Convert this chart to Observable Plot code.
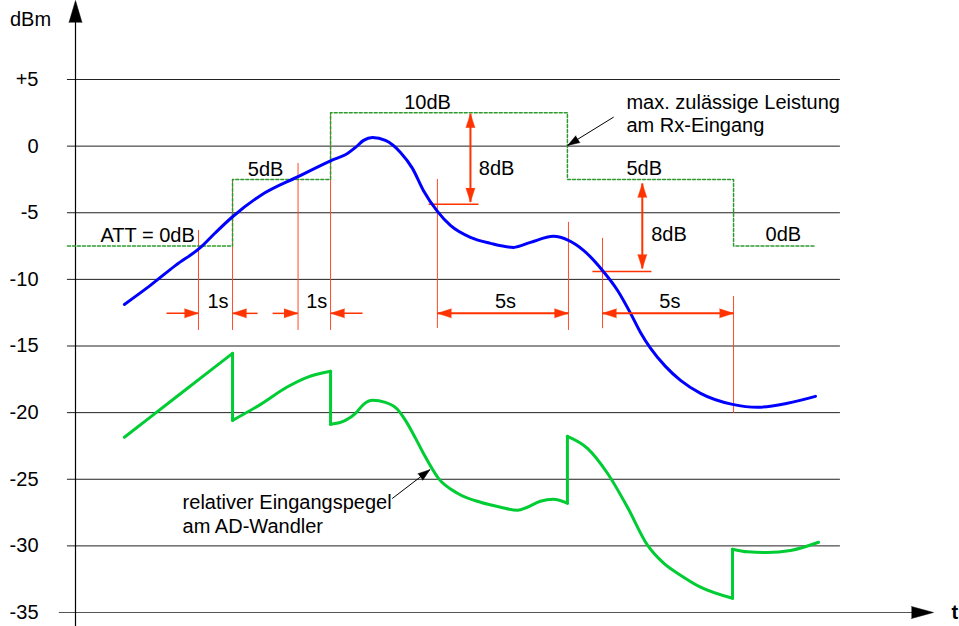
<!DOCTYPE html>
<html><head><meta charset="utf-8">
<script src="https://cdn.jsdelivr.net/npm/d3@7"></script>
<script src="https://cdn.jsdelivr.net/npm/@observablehq/plot@0.6"></script>
<style>html,body{margin:0;padding:0;background:#fff;} svg{display:block}</style>
</head><body><div id="chart"></div>
<script>
// ---- data (t in s, level in dBm) ----
const yTicks = [5, 0, -5, -10, -15, -20, -25, -30, -35];
const gridLevels = [5, 0, -5, -10, -15, -20, -25, -30];

// received power at Rx input (blue)
const rxLevel = [[1.88,-11.88],[2.88,-10.45],[3.85,-8.95],[4.81,-7.6],[5.38,-6.5],[6.04,-5.3],[7.12,-3.7],[8.58,-2.27],[9.81,-1.1],[10.46,-0.55],[10.77,-0.1],[11.08,0.43],[11.42,0.65],[11.92,0.43],[12.5,-0.47],[12.96,-1.67],[13.38,-3.33],[13.92,-4.9],[14.42,-5.95],[15.19,-6.85],[15.96,-7.3],[16.85,-7.6],[17.5,-7.22],[18.38,-6.77],[18.96,-7.07],[19.54,-7.82],[20.27,-9.33],[20.85,-10.83],[21.35,-12.55],[21.73,-13.98],[22.12,-15.18],[22.69,-16.53],[23.27,-17.58],[24.04,-18.55],[25.27,-19.38],[26.23,-19.6],[27.38,-19.3],[28.46,-18.78]];

// relative level at AD converter (green), piecewise between attenuator switches
const adSeg1 = [[1.88,-21.85],[3.96,-18.7],[6.04,-15.55]];
const adSeg2 = [[6.04,-20.58],[7.12,-19.38],[8.14,-18.08],[8.91,-17.35],[9.81,-16.9]];
const adSeg3 = [[9.81,-20.88],[10.38,-20.58],[10.77,-20.05],[11.08,-19.38],[11.42,-19.08],[11.92,-19.23],[12.38,-19.75],[12.69,-20.58],[13.08,-21.93],[13.38,-23.05],[13.96,-24.93],[14.69,-26.05],[15.58,-26.73],[16.35,-27.1],[17.0,-27.33],[17.38,-27.1],[17.88,-26.65],[18.38,-26.5],[18.92,-26.8]];
const adSeg4 = [[18.92,-21.78],[19.69,-22.68],[20.46,-24.55],[21.23,-27.1],[22.0,-29.95],[22.62,-31.3],[23.27,-32.2],[24.04,-33.1],[25.27,-33.93]];
const adSeg5 = [[25.27,-30.25],[25.85,-30.45],[26.6,-30.5],[27.5,-30.35],[28.58,-29.73]];

// max. allowed power (attenuator steps)
const maxLevel = [[-0.31,-7.5],[6.04,-2.5],[9.81,2.5],[18.92,-2.5],[25.31,-7.5],[28.46,-7.5]];

// red marker lines [t, top, bottom]
const markerLines = [[4.73,-6.33,-13.83],[6.04,-2.5,-13.83],[8.56,-1.3,-13.83],[9.81,2.5,-13.83],[13.92,-2.5,-13.68],[18.96,-5.72,-13.83],[20.27,-6.92,-13.7],[25.31,-11.28,-20.05]];
const timeArrowLevel = -12.55;
const oneSidedArrows = [[3.5,4.73],[7.0,6.04],[7.58,8.56],[11.04,9.81]]; // [tail, tip]
const doubleArrows = [[13.92,18.96],[20.27,25.31]];
const dbArrows = [[15.19,2.43,-4.2],[21.8,-2.8,-9.18]]; // [t, top, bottom]
const dbTicks = [[13.58,15.5,-4.37],[19.88,22.15,-9.4]]; // [t1, t2, v]

const startLabels = [
  [0.96,-6.7,"ATT = 0dB"],[15.51,-1.7,"8dB"],[21.19,-1.7,"5dB"],[22.14,-6.65,"8dB"],[26.54,-6.65,"0dB"],
  [21.19,3.3,"max. zulässige Leistung"],[21.19,1.52,"am Rx-Eingang"],
  [4.12,-26.73,"relativer Eingangspegel"],[4.12,-28.53,"am AD-Wandler"]
];
const middleLabels = [[7.31,-1.75,"5dB"],[13.54,3.3,"10dB"],[5.48,-11.7,"1s"],[9.28,-11.7,"1s"],[16.54,-11.7,"5s"],[22.86,-11.7,"5s"],[-1.73,9.49,"dBm"]];
const pointerArrows = [[20.7,2.18,18.93,0.05],[12.18,-26.45,13.63,-24.28]]; // tail t,v -> tip t,v

// ---- layout ----
const W = 959, H = 626, ML = 75, MR = 26, MT = 79, MB = 14;
const xDom = [0, 33], yDom = [-35, 5];
const kx = (W - ML - MR) / (xDom[1] - xDom[0]);
const ky = (H - MT - MB) / (yDom[1] - yDom[0]);
const angleOf = (dt, dv) => Math.atan2(dt * kx, dv * ky) * 180 / Math.PI;
const vTop = yDom[1] + MT / ky, vBottom = yDom[0] - MB / ky;

const RED = "#ff3300";
const FONT = "Liberation Sans, Arial, Helvetica, sans-serif";

const pts = a => a.map(([t, v]) => ({t, v}));
const adSegs = [adSeg1, adSeg2, adSeg3, adSeg4, adSeg5];
const adData = adSegs.flatMap((s, i) => s.map(([t, v]) => ({t, v, seg: i})));
const adJumps = adSegs.slice(1).map((s, i) => {
  const prev = adSegs[i][adSegs[i].length - 1];
  return {t1: prev[0], v1: prev[1], t2: s[0][0], v2: s[0][1]};
});

const redHeads = [
  ...oneSidedArrows.map(([a, b]) => ({t: b, v: timeArrowLevel, a: b > a ? 90 : 270})),
  ...doubleArrows.flatMap(([a, b]) => [{t: a, v: timeArrowLevel, a: 270}, {t: b, v: timeArrowLevel, a: 90}]),
  ...dbArrows.flatMap(([t, a, b]) => [{t, v: a, a: 0}, {t, v: b, a: 180}])
];
const blackHeads = pointerArrows.map(([t1, v1, t2, v2]) => ({t: t2, v: v2, a: angleOf(t2 - t1, v2 - v1)}));

const chart = Plot.plot({
  width: W, height: H,
  marginLeft: ML, marginRight: MR, marginTop: MT, marginBottom: MB,
  x: {domain: xDom, axis: null},
  y: {domain: yDom, label: null},
  style: {fontFamily: FONT, fontSize: "20px", background: "#fff", overflow: "visible"},
  marks: [
    // grid
    Plot.ruleY(gridLevels, {y: d => d, x1: -0.31, x2: 29.42, stroke: "#222", strokeWidth: 1}),
    Plot.ruleY([-35], {y: d => d, x1: -0.62, x2: 32.3, stroke: "#555", strokeWidth: 1.2}),
    Plot.ruleX([0], {x: d => d, y1: vBottom, y2: vTop - 20 / ky, stroke: "#000", strokeWidth: 1.2}),
    Plot.vector([{t: 0, v: vTop}], {x: "t", y: "v", rotate: 0, length: 22, r: 6.5, shape: "spike", anchor: "end", fill: "#000", stroke: "#000", strokeWidth: 0.5}),
    Plot.vector([{t: xDom[1], v: -35}], {x: "t", y: "v", rotate: 90, length: 22, r: 6, shape: "spike", anchor: "end", fill: "#000", stroke: "#000", strokeWidth: 0.5}),
    Plot.axisY({ticks: yTicks, tickSize: 0, tickPadding: 37, fontSize: 20, tickFormat: d => d > 0 ? "+" + d : String(d)}),
    Plot.text(["t"], {x: 33.69, y: -35, text: d => d, fontSize: 20, fontWeight: "bold", textAnchor: "start", fill: "#000"}),

    // red marker lines
    Plot.ruleX(markerLines, {x: d => d[0], y1: d => d[1], y2: d => d[2], stroke: "#ff4a2a", strokeWidth: 1}),
    Plot.link(dbTicks, {x1: d => d[0], x2: d => d[1], y1: d => d[2], y2: d => d[2], stroke: RED, strokeWidth: 1.5}),

    // max allowed power
    Plot.line(pts(maxLevel), {x: "t", y: "v", curve: "step-after", stroke: "#2f9a2f", strokeWidth: 1.5, strokeDasharray: "3 2"}),

    // curves
    Plot.line(pts(rxLevel), {x: "t", y: "v", curve: "monotone-x", stroke: "#0000ff", strokeWidth: 3}),
    Plot.line(adData, {x: "t", y: "v", z: "seg", curve: "monotone-x", stroke: "#00cc33", strokeWidth: 3}),
    Plot.link(adJumps, {x1: "t1", y1: "v1", x2: "t2", y2: "v2", stroke: "#00cc33", strokeWidth: 3, strokeLinecap: "round"}),

    // red arrows
    Plot.link(oneSidedArrows, {x1: d => d[0], x2: d => d[1], y1: timeArrowLevel, y2: timeArrowLevel, stroke: RED, strokeWidth: 1.5}),
    Plot.link(doubleArrows, {x1: d => d[0], x2: d => d[1], y1: timeArrowLevel, y2: timeArrowLevel, stroke: RED, strokeWidth: 2}),
    Plot.link(dbArrows, {x1: d => d[0], x2: d => d[0], y1: d => d[1], y2: d => d[2], stroke: RED, strokeWidth: 2}),
    Plot.vector(redHeads, {x: "t", y: "v", rotate: "a", length: 14, r: 4.5, shape: "spike", anchor: "end", fill: RED, stroke: RED, strokeWidth: 0.5}),

    // pointer arrows
    Plot.link(pointerArrows, {x1: d => d[0], y1: d => d[1], x2: d => d[2], y2: d => d[3], stroke: "#000", strokeWidth: 1}),
    Plot.vector(blackHeads, {x: "t", y: "v", rotate: "a", length: 12, r: 4, shape: "spike", anchor: "end", fill: "#000", stroke: "#000", strokeWidth: 0.5}),

    // labels
    Plot.text(startLabels, {x: d => d[0], y: d => d[1], text: d => d[2], textAnchor: "start", fontSize: 20, fill: "#000"}),
    Plot.text(middleLabels, {x: d => d[0], y: d => d[1], text: d => d[2], textAnchor: "middle", fontSize: 20, fill: "#000"})
  ]
});
document.getElementById("chart").appendChild(chart);
</script>
</body></html>
